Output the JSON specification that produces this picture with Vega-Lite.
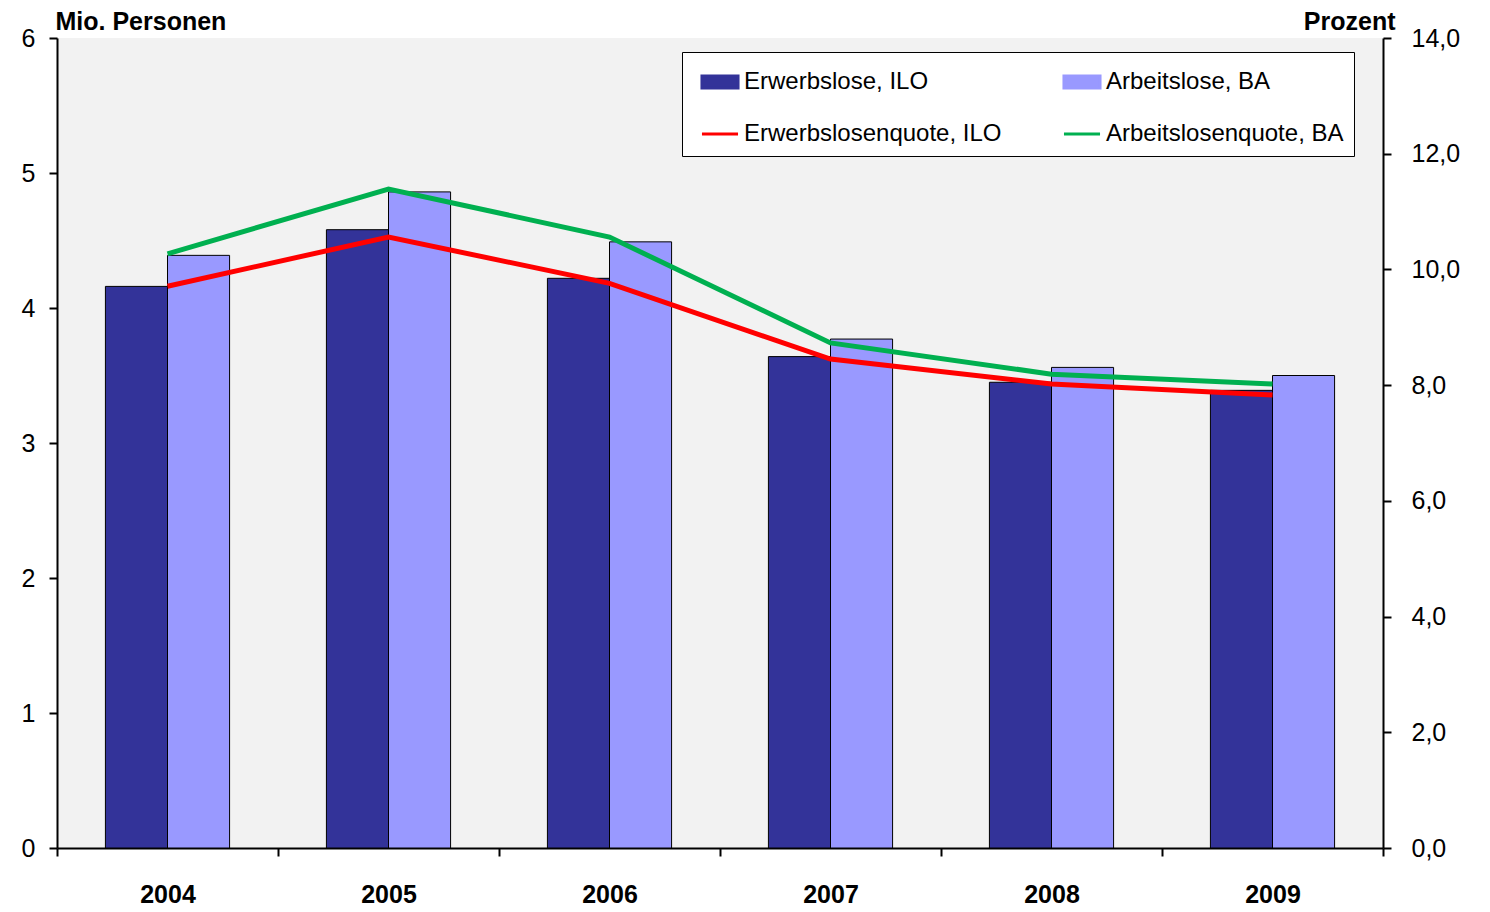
{
  "$schema": "https://vega.github.io/schema/vega-lite/v6.json",
  "width": 1326,
  "height": 810,
  "autosize": {"type": "none"},
  "padding": {"left": 57, "top": 38, "right": 107, "bottom": 64},
  "background": "white",
  "data": {
    "values": [
      {"Jahr": "2004", "Reihe": "Erwerbslose, ILO", "Art": "bar", "Wert": 4.16},
      {"Jahr": "2005", "Reihe": "Erwerbslose, ILO", "Art": "bar", "Wert": 4.58},
      {"Jahr": "2006", "Reihe": "Erwerbslose, ILO", "Art": "bar", "Wert": 4.22},
      {"Jahr": "2007", "Reihe": "Erwerbslose, ILO", "Art": "bar", "Wert": 3.64},
      {"Jahr": "2008", "Reihe": "Erwerbslose, ILO", "Art": "bar", "Wert": 3.45},
      {"Jahr": "2009", "Reihe": "Erwerbslose, ILO", "Art": "bar", "Wert": 3.39},
      {"Jahr": "2004", "Reihe": "Arbeitslose, BA", "Art": "bar", "Wert": 4.39},
      {"Jahr": "2005", "Reihe": "Arbeitslose, BA", "Art": "bar", "Wert": 4.86},
      {"Jahr": "2006", "Reihe": "Arbeitslose, BA", "Art": "bar", "Wert": 4.49},
      {"Jahr": "2007", "Reihe": "Arbeitslose, BA", "Art": "bar", "Wert": 3.77},
      {"Jahr": "2008", "Reihe": "Arbeitslose, BA", "Art": "bar", "Wert": 3.56},
      {"Jahr": "2009", "Reihe": "Arbeitslose, BA", "Art": "bar", "Wert": 3.50},
      {"Jahr": "2004", "Reihe": "Erwerbslosenquote, ILO", "Art": "line", "Wert": 9.71},
      {"Jahr": "2005", "Reihe": "Erwerbslosenquote, ILO", "Art": "line", "Wert": 10.56},
      {"Jahr": "2006", "Reihe": "Erwerbslosenquote, ILO", "Art": "line", "Wert": 9.76},
      {"Jahr": "2007", "Reihe": "Erwerbslosenquote, ILO", "Art": "line", "Wert": 8.45},
      {"Jahr": "2008", "Reihe": "Erwerbslosenquote, ILO", "Art": "line", "Wert": 8.02},
      {"Jahr": "2009", "Reihe": "Erwerbslosenquote, ILO", "Art": "line", "Wert": 7.83},
      {"Jahr": "2004", "Reihe": "Arbeitslosenquote, BA", "Art": "line", "Wert": 10.27},
      {"Jahr": "2005", "Reihe": "Arbeitslosenquote, BA", "Art": "line", "Wert": 11.39},
      {"Jahr": "2006", "Reihe": "Arbeitslosenquote, BA", "Art": "line", "Wert": 10.56},
      {"Jahr": "2007", "Reihe": "Arbeitslosenquote, BA", "Art": "line", "Wert": 8.73},
      {"Jahr": "2008", "Reihe": "Arbeitslosenquote, BA", "Art": "line", "Wert": 8.19},
      {"Jahr": "2009", "Reihe": "Arbeitslosenquote, BA", "Art": "line", "Wert": 8.02}
    ]
  },
  "encoding": {
    "x": {
      "field": "Jahr",
      "type": "nominal",
      "title": null,
      "scale": {"paddingInner": 0, "paddingOuter": 0},
      "axis": {
        "labelAngle": 0,
        "tickBand": "extent",
        "labelFontSize": 25,
        "labelFontWeight": "bold",
        "labelPadding": 26,
        "tickSize": 8,
        "domainColor": "black",
        "tickColor": "black",
        "domainWidth": 2,
        "tickWidth": 2
      }
    }
  },
  "layer": [
    {
      "transform": [{"filter": "datum.Art == 'bar'"}],
      "mark": {"type": "bar", "stroke": "black", "strokeWidth": 1},
      "encoding": {
        "xOffset": {
          "field": "Reihe",
          "type": "nominal",
          "sort": ["Erwerbslose, ILO", "Arbeitslose, BA"],
          "scale": {"paddingInner": 0, "paddingOuter": 0.78}
        },
        "y": {
          "field": "Wert",
          "type": "quantitative",
          "scale": {"domain": [0, 6]},
          "axis": {
            "title": "Mio. Personen",
            "titleAngle": 0,
            "titleAlign": "left",
            "titleBaseline": "bottom",
            "titleX": -2,
            "titleY": -4,
            "titleFontSize": 25,
            "titleFontWeight": "bold",
            "tickCount": 6,
            "grid": false,
            "labelFontSize": 25,
            "labelPadding": 14,
            "tickSize": 8,
            "domainColor": "black",
            "tickColor": "black",
            "domainWidth": 2,
            "tickWidth": 2
          }
        },
        "color": {
          "field": "Reihe",
          "type": "nominal",
          "scale": {
            "domain": ["Erwerbslose, ILO", "Erwerbslosenquote, ILO", "Arbeitslose, BA", "Arbeitslosenquote, BA"],
            "range": ["#333399", "#ff0000", "#9999ff", "#00b050"]
          }
        }
      }
    },
    {
      "transform": [{"filter": "datum.Art == 'line'"}],
      "mark": {"type": "line", "strokeWidth": 5},
      "encoding": {
        "y": {
          "field": "Wert",
          "type": "quantitative",
          "scale": {"domain": [0, 14]},
          "axis": {
            "orient": "right",
            "format": ".1f",
            "title": "Prozent",
            "titleAngle": 0,
            "titleAlign": "right",
            "titleBaseline": "bottom",
            "titleX": 12,
            "titleY": -4,
            "titleFontSize": 25,
            "titleFontWeight": "bold",
            "values": [0, 2, 4, 6, 8, 10, 12, 14],
            "grid": false,
            "labelFontSize": 25,
            "labelPadding": 20,
            "tickSize": 8,
            "domainColor": "black",
            "tickColor": "black",
            "domainWidth": 2,
            "tickWidth": 2
          }
        },
        "color": {"field": "Reihe", "type": "nominal"}
      }
    },
    {
      "mark": {"type": "point", "filled": true, "opacity": 0, "strokeWidth": 4, "size": 0},
      "encoding": {
        "y": {"field": "Wert", "type": "quantitative", "axis": null, "scale": {"domain": [0, 14]}},
        "color": {
          "field": "Reihe",
          "type": "nominal",
          "legend": {
            "title": null,
            "orient": "none",
            "legendX": 625,
            "legendY": 14,
            "columns": 2,
            "columnPadding": 52,
            "rowPadding": 20,
            "labelFontSize": 24,
            "labelLimit": 400,
            "symbolSize": 1300,
            "symbolOpacity": 1,
            "symbolStrokeWidth": 3,
            "padding": 10,
            "strokeColor": "black",
            "fillColor": "white",
            "symbolOffset": 8
          }
        },
        "shape": {
          "field": "Reihe",
          "type": "nominal",
          "scale": {
            "domain": ["Erwerbslose, ILO", "Erwerbslosenquote, ILO", "Arbeitslose, BA", "Arbeitslosenquote, BA"],
            "range": ["M-1,-0.33H1V0.33H-1Z", "stroke", "M-1,-0.33H1V0.33H-1Z", "stroke"]
          }
        },
        "stroke": {
          "field": "Reihe",
          "type": "nominal",
          "scale": {
            "domain": ["Erwerbslose, ILO", "Erwerbslosenquote, ILO", "Arbeitslose, BA", "Arbeitslosenquote, BA"],
            "range": ["black", "#ff0000", "black", "#00b050"]
          }
        }
      }
    }
  ],
  "resolve": {"scale": {"y": "independent"}},
  "config": {
    "font": "Liberation Sans",
    "view": {"fill": "#f2f2f2", "stroke": null},
    "locale": {"number": {"decimal": ",", "thousands": ".", "grouping": [3], "currency": ["", " €"]}}
  }
}
